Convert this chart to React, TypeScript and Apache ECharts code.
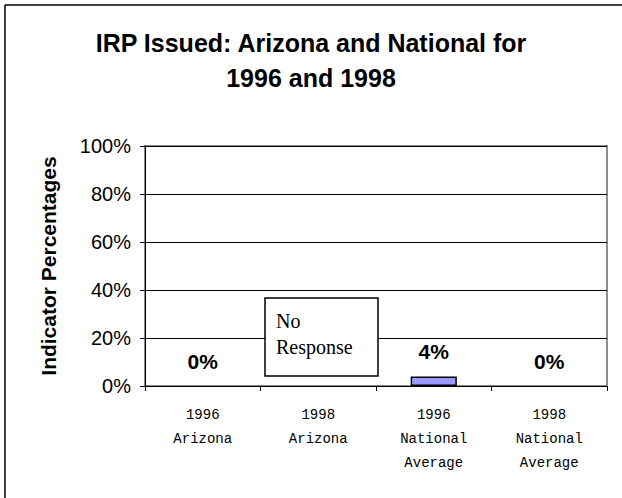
import React, { useEffect, useRef } from "react";
import * as echarts from "echarts";

const categories = ["1996\nArizona", "1998\nArizona", "1996\nNational\nAverage", "1998\nNational\nAverage"];
const values: (number | null)[] = [0, null, 4, 0];
const yTicks = [0, 20, 40, 60, 80, 100];
const titleLines = ["IRP Issued: Arizona and National for", "1996 and 1998"];
const yAxisTitle = "Indicator Percentages";
const noResponseText = "No\nResponse";

export default function App() {
  const ref = useRef<HTMLDivElement>(null);
  useEffect(() => {
    if (!ref.current) return;
    const chart = echarts.init(ref.current, undefined, { renderer: "svg" });
    chart.setOption({
      animation: false,
      backgroundColor: "#ffffff",
      title: {
        text: titleLines.join("\n"),
        left: "center",
        top: 20,
        textStyle: {
          fontFamily: "Liberation Sans, Arial, sans-serif",
          fontWeight: "bold",
          fontSize: 25,
          lineHeight: 35,
          color: "#000",
        },
      },
      grid: {
        left: 145,
        top: 146,
        width: 462,
        height: 240,
        show: true,
        borderColor: "#8c8c8c",
        borderWidth: 2,
        backgroundColor: "transparent",
      },
      xAxis: {
        type: "category",
        data: categories,
        axisLine: { show: true, lineStyle: { color: "#000", width: 1 } },
        axisTick: { show: true, length: 5, lineStyle: { color: "#000" } },
        axisLabel: {
          fontFamily: "Liberation Mono, Courier New, monospace",
          fontSize: 14,
          lineHeight: 24,
          color: "#000",
          margin: 17,
          interval: 0,
        },
      },
      yAxis: {
        type: "value",
        min: 0,
        max: 100,
        interval: 20,
        name: yAxisTitle,
        nameLocation: "middle",
        nameGap: 86,
        nameTextStyle: {
          fontFamily: "Liberation Sans, Arial, sans-serif",
          fontWeight: "bold",
          fontSize: 21,
          color: "#000",
        },
        axisLine: { show: true, lineStyle: { color: "#000", width: 1 } },
        axisTick: { show: true, length: 5, lineStyle: { color: "#000" } },
        axisLabel: {
          formatter: (v: number) => (yTicks.includes(v) ? v + "%" : ""),
          fontFamily: "Liberation Sans, Arial, sans-serif",
          fontSize: 20,
          color: "#000",
          margin: 14,
        },
        splitLine: { show: true, lineStyle: { color: "#000", width: 1 } },
      },
      series: [
        {
          type: "bar",
          data: values.map((v) => ({
            value: v,
            itemStyle: v === 0 ? { borderWidth: 0 } : undefined,
          })),
          barWidth: "40%",
          itemStyle: { color: "#9999ff", borderColor: "#000", borderWidth: 1.5 },
          label: {
            show: true,
            position: "top",
            distance: 14,
            formatter: (p: any) => (p.value == null ? "" : p.value + "%"),
            fontFamily: "Liberation Sans, Arial, sans-serif",
            fontWeight: "bold",
            fontSize: 21,
            color: "#000",
          },
        },
      ],
      graphic: [
        { type: "line", shape: { x1: 5, y1: 5, x2: 5, y2: 498 }, style: { stroke: "#000", lineWidth: 1.5 } },
        { type: "line", shape: { x1: 5, y1: 5, x2: 622, y2: 5 }, style: { stroke: "#000", lineWidth: 1.5 } },
        {
          type: "rect",
          shape: { x: 265, y: 298, width: 113, height: 78 },
          style: { fill: "#fff", stroke: "#000", lineWidth: 1.5 },
          z: 10,
        },
        {
          type: "text",
          x: 276,
          y: 308,
          style: {
            text: noResponseText,
            fontFamily: "Liberation Serif, Times New Roman, serif",
            fontSize: 20,
            lineHeight: 26,
            fill: "#000",
          },
          z: 11,
        },
      ],
    });
    return () => chart.dispose();
  }, []);
  return <div ref={ref} style={{ position: "fixed", left: 0, top: 0, width: 622, height: 498 }} />;
}
